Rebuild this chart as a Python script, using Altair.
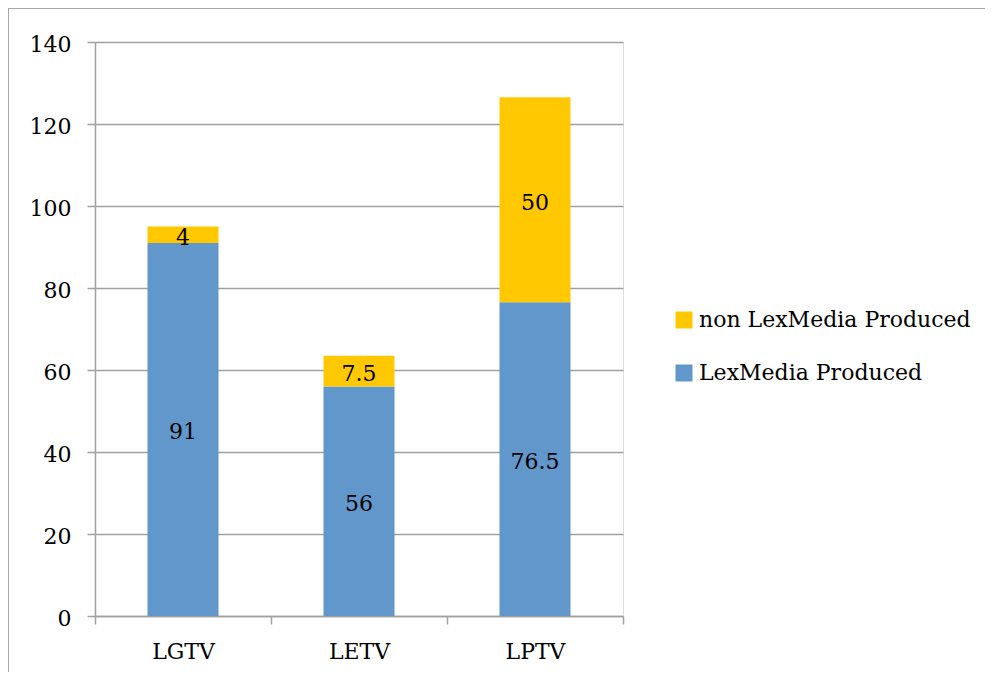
import altair as alt
import pandas as pd

channels = ["LGTV", "LETV", "LPTV"]
lex_values = [91, 56, 76.5]
non_lex_values = [4, 7.5, 50]
series_names = ["non LexMedia Produced", "LexMedia Produced"]
series_colors = ["#FFC800", "#6197CA"]
y_ticks = [0, 20, 40, 60, 80, 100, 120, 140]

rows = []
for c, v in zip(channels, lex_values):
    rows.append({"channel": c, "series": "LexMedia Produced", "value": v, "ord": 0})
for c, v in zip(channels, non_lex_values):
    rows.append({"channel": c, "series": "non LexMedia Produced", "value": v, "ord": 1})
df = pd.DataFrame(rows)

FONT = "DejaVu Serif"
FS = 22
W, H = 528, 574

base = alt.Chart(df)

bars = base.mark_bar(size=71).encode(
    x=alt.X("channel:N", sort=channels, title=None,
            scale=alt.Scale(paddingInner=0, paddingOuter=0),
            axis=alt.Axis(labelAngle=0, tickBand="extent", tickSize=8,
                          labelPadding=17, domainColor="#a0a0a0",
                          tickColor="#a0a0a0", domainWidth=1.5, tickWidth=1.5,
                          labelFont=FONT, labelFontSize=FS, labelColor="black")),
    y=alt.Y("value:Q", stack="zero", title=None,
            scale=alt.Scale(domain=[0, 140], nice=False),
            axis=alt.Axis(values=y_ticks, tickSize=8, labelPadding=16,
                          labelOffset=2,
                          gridColor="#a0a0a0", gridWidth=1.5,
                          domainColor="#a0a0a0", tickColor="#a0a0a0",
                          domainWidth=1.5, tickWidth=1.5,
                          labelFont=FONT, labelFontSize=FS, labelColor="black")),
    color=alt.Color("series:N",
                    scale=alt.Scale(domain=series_names, range=series_colors),
                    legend=alt.Legend(title=None, orient="none", legendX=578,
                                      legendY=267, symbolType="square",
                                      symbolSize=289, symbolStrokeWidth=0,
                                      labelFont=FONT, labelFontSize=FS,
                                      labelColor="black", labelOffset=4,
                                      rowPadding=31, padding=0, labelLimit=400)),
    order=alt.Order("ord:Q"),
)

labels = base.transform_stack(
    stack="value", groupby=["channel"], sort=[alt.SortField("ord")], as_=["y0", "y1"]
).transform_calculate(
    mid="(datum.y0 + datum.y1) / 2"
).mark_text(font=FONT, fontSize=FS, color="black", baseline="middle", dy=3).encode(
    x=alt.X("channel:N", sort=channels),
    y=alt.Y("mid:Q"),
    text=alt.Text("value:Q"),
)

border = alt.Chart(pd.DataFrame({"a": [0]})).mark_rect(
    fill=None, stroke="#a8a8a8", strokeWidth=2
).encode(
    x=alt.value(-87), x2=alt.value(1000), y=alt.value(-34), y2=alt.value(700)
)

chart = alt.layer(border, bars, labels).properties(
    width=W, height=H,
    autosize=alt.AutoSizeParams(type="none"),
    padding={"left": 87, "top": 34, "right": 362, "bottom": 56},
).configure_view(stroke=None).configure(background="white")

chart.save("out.html", embed_options={"renderer": "svg", "actions": False})
